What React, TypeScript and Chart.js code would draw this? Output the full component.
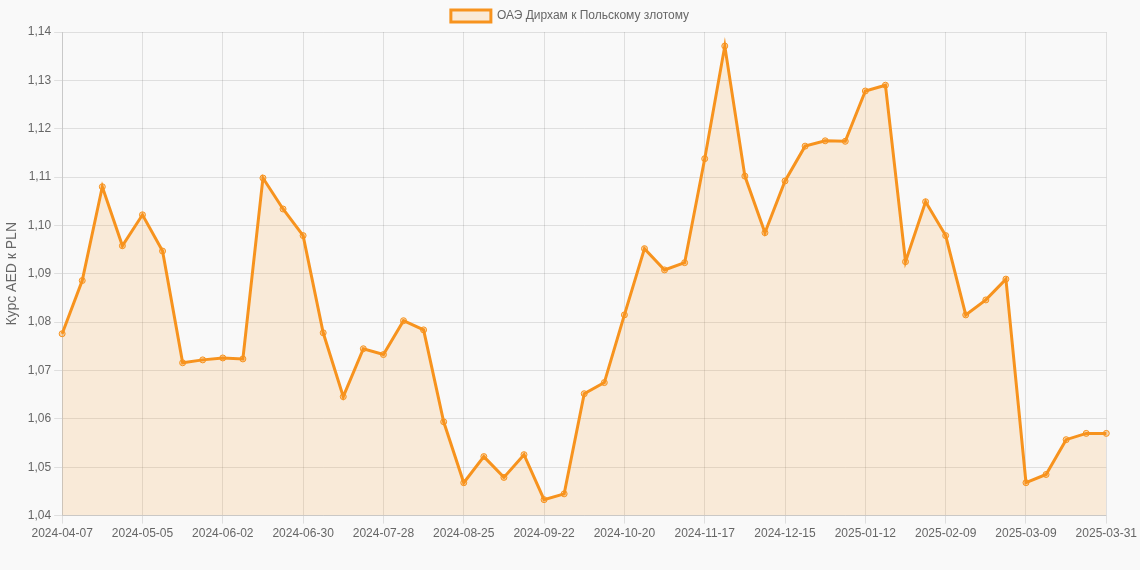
import React, { useEffect, useRef } from 'react';
import Chart from 'chart.js/auto';

const dates = [
  '2024-04-07', '2024-04-14', '2024-04-21', '2024-04-28', '2024-05-05', '2024-05-12', '2024-05-19',
  '2024-05-26', '2024-06-02', '2024-06-09', '2024-06-16', '2024-06-23', '2024-06-30', '2024-07-07',
  '2024-07-14', '2024-07-21', '2024-07-28', '2024-08-04', '2024-08-11', '2024-08-18', '2024-08-25',
  '2024-09-01', '2024-09-08', '2024-09-15', '2024-09-22', '2024-09-29', '2024-10-06', '2024-10-13',
  '2024-10-20', '2024-10-27', '2024-11-03', '2024-11-10', '2024-11-17', '2024-11-24', '2024-12-01',
  '2024-12-08', '2024-12-15', '2024-12-22', '2024-12-29', '2025-01-05', '2025-01-12', '2025-01-19',
  '2025-01-26', '2025-02-02', '2025-02-09', '2025-02-16', '2025-02-23', '2025-03-02', '2025-03-09',
  '2025-03-16', '2025-03-23', '2025-03-30', '2025-03-31'
];

const aedPln = [
  1.0776, 1.0886, 1.1080, 1.0958, 1.1022, 1.0947, 1.0716,
  1.0722, 1.0726, 1.0724, 1.1098, 1.1034, 1.0979, 1.0778,
  1.0646, 1.0745, 1.0733, 1.0803, 1.0784, 1.0594, 1.0468,
  1.0522, 1.0479, 1.0526, 1.0433, 1.0445, 1.0652, 1.0675,
  1.0815, 1.0952, 1.0908, 1.0923, 1.1138, 1.1371, 1.1102,
  1.0985, 1.1092, 1.1164, 1.1175, 1.1174, 1.1278, 1.1290,
  1.0925, 1.1049, 1.0979, 1.0815, 1.0846, 1.0889, 1.0468,
  1.0485, 1.0557, 1.0570, 1.0570
];

const seriesLabel = 'ОАЭ Дирхам к Польскому злотому';
const yTitle = 'Курс AED к PLN';

export default function App() {
  const canvasRef = useRef<HTMLCanvasElement | null>(null);

  useEffect(() => {
    document.body.style.margin = '0';
    document.body.style.background = '#f9f9f9';
    if (!canvasRef.current) return;

    Chart.defaults.font.family = '"Liberation Sans", Arial, sans-serif';
    Chart.defaults.font.size = 12;
    Chart.defaults.color = '#666';

    const chart = new Chart(canvasRef.current, {
      type: 'line',
      data: {
        labels: dates,
        datasets: [{
          label: seriesLabel,
          data: aedPln,
          borderColor: '#f7931e',
          backgroundColor: 'rgba(247, 147, 30, 0.15)',
          pointBackgroundColor: 'rgba(247, 147, 30, 0.35)',
          pointBorderColor: '#f7931e',
          pointRadius: 3,
          pointBorderWidth: 1,
          borderWidth: 3,
          fill: true,
          tension: 0
        }]
      },
      options: {
        responsive: false,
        animation: false,
        layout: { padding: { bottom: 26 } },
        plugins: {
          legend: { position: 'top' },
          tooltip: { enabled: false }
        },
        scales: {
          x: {
            ticks: { maxRotation: 0, autoSkip: true },
            grid: { color: 'rgba(0, 0, 0, 0.1)' }
          },
          y: {
            min: 1.04,
            max: 1.14,
            ticks: {
              stepSize: 0.01,
              callback: (v) => Number(v).toFixed(2).replace('.', ',')
            },
            title: { display: true, text: yTitle, font: { size: 14 } },
            grid: { color: 'rgba(0, 0, 0, 0.1)' }
          }
        }
      }
    });

    return () => chart.destroy();
  }, []);

  return (
    <div style={{ width: 1140, height: 570 }}>
      <canvas ref={canvasRef} width={1140} height={570}></canvas>
    </div>
  );
}
